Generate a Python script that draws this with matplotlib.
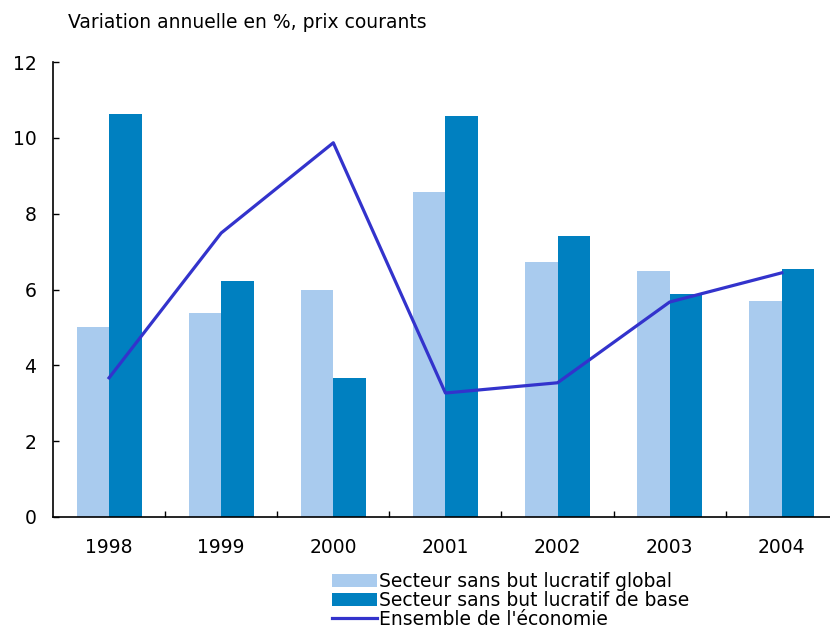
import numpy as np
import matplotlib
matplotlib.use('Agg')
import matplotlib.pyplot as plt
from matplotlib.ticker import FixedLocator

plt.rcParams['font.family'] = ['DejaVu Sans']

years = ['1998', '1999', '2000', '2001', '2002', '2003', '2004']
global_nsl = [5.01, 5.38, 5.99, 8.58, 6.73, 6.49, 5.70]
base_nsl = [10.63, 6.23, 3.67, 10.58, 7.41, 5.88, 6.54]
economie = [3.67, 7.49, 9.87, 3.27, 3.54, 5.67, 6.44]

labels = ['Secteur sans but lucratif global',
          'Secteur sans but lucratif de base',
          "Ensemble de l'économie"]

x = np.arange(len(years))
w = 0.29
fs = 13.5

fig = plt.figure(figsize=(8.3, 6.31), dpi=100)
ax = fig.add_axes([53/830, 1-517/631, 1-53/830, (517-62)/631])

b1 = ax.bar(x - w/2, global_nsl, width=w, color='#a9cbee', label=labels[0])
b2 = ax.bar(x + w/2, base_nsl, width=w, color='#0080c0', label=labels[1])
l1, = ax.plot(x, economie, color='#3333cc', lw=2.3, label=labels[2])

ax.set_xlim(-0.5, 6.43)
ax.set_ylim(0, 12)
ax.set_yticks([0, 2, 4, 6, 8, 10, 12])
ax.set_xticks(x)
ax.set_xticklabels(years)
ax.xaxis.set_minor_locator(FixedLocator(x[:-1] + 0.5))
ax.tick_params(axis='x', which='major', length=0, pad=15, labelsize=fs)
ax.tick_params(axis='x', which='minor', direction='in', length=4, width=1)
ax.tick_params(axis='y', direction='in', length=4, width=1, pad=12, labelsize=fs)
ax.spines['top'].set_visible(False)
ax.spines['right'].set_visible(False)
ax.spines['left'].set_linewidth(1.2)
ax.spines['bottom'].set_linewidth(1.2)

fig.text(68/830, 1-22/631, 'Variation annuelle en %, prix courants',
         fontsize=fs, va='center', ha='left')

fig.legend(handles=[b1, b2, l1], loc='upper left',
           bbox_to_anchor=(332/830, 1-572/631), frameon=False,
           fontsize=fs, handlelength=2.4, handleheight=0.7,
           handletextpad=0.1, labelspacing=0.0, borderpad=0, borderaxespad=0)

plt.savefig('out.png', dpi=100)
